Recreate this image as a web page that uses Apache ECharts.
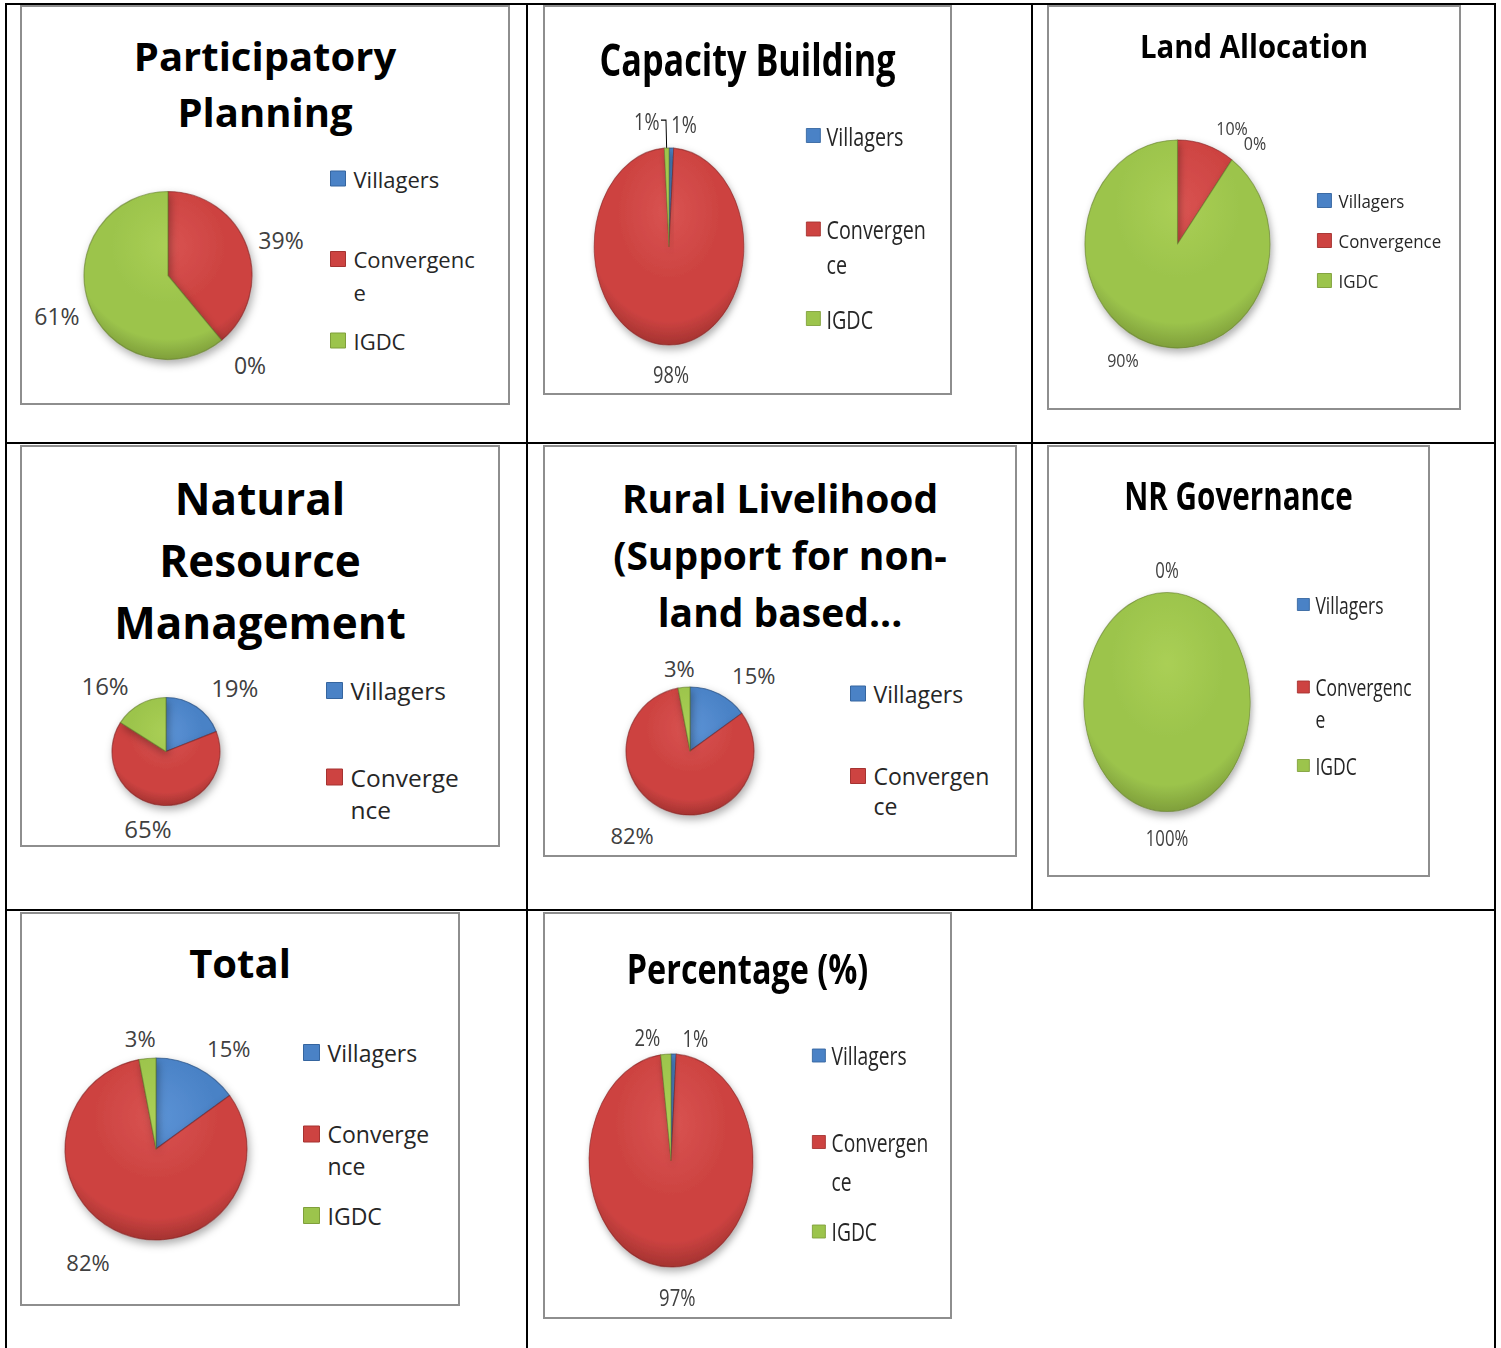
<!DOCTYPE html>
<html><head><meta charset="utf-8">
<script src="https://cdn.jsdelivr.net/npm/echarts@6/dist/echarts.min.js"></script>
<style>
html,body{margin:0;padding:0;background:#fff;width:1501px;height:1348px;overflow:hidden;position:relative;}
.ln{position:absolute;background:#000;}
.box{position:absolute;border:2px solid #8e8e8e;box-sizing:border-box;pointer-events:none;}
.ch{position:absolute;transform-origin:0 0;}
</style></head><body>
<script>
// ---------- data ----------
const categories = ['Villagers', 'Convergence', 'IGDC'];
const chartTitles = [
  'Participatory\nPlanning',
  'Capacity Building',
  'Land Allocation',
  'Natural\nResource\nManagement',
  'Rural Livelihood\n(Support for non-\nland based...',
  'NR Governance',
  'Total',
  'Percentage (%)'
];
const participatoryValues = [0, 39, 61];
const capacityValues = [1, 98, 1];
const landValues = [0, 10, 90];
const nrmValues = [19, 65, 16];
const ruralValues = [15, 82, 3];
const governanceValues = [0, 0, 100];
const totalValues = [15, 82, 3];
const percentageValues = [1, 97, 2];

// ---------- styles ----------
const FONT = 'Open Sans';
const BASE = ['#4A82C6', '#CD4341', '#9CC44C'];
const LIGHT = ['#5C93D6', '#D95452', '#AACF55'];
const DARK = ['#35659F', '#A53331', '#7F9F3B'];
const EDGE = ['rgba(40,80,130,0.7)', 'rgba(130,35,35,0.6)', 'rgba(100,125,45,0.6)'];

// ---------- layout (page px) ----------
const charts = [
  {title: chartTitles[0], values: participatoryValues, box: [20, 5, 490, 400], sx: 1,
   tSize: 40, tLH: 56, tTop: 27, pie: [168, 275.5, 84], lSize: 23, lR: 118,
   nudge: [[82, 207], [2, 4], [0, 1]],
   leg: {x: 330, icon: 15, font: 22, lh: 33, wrap: 10, cy: [180, 260, 342]}},
  {title: chartTitles[1], values: capacityValues, box: [543, 5, 409, 390], sx: 0.76,
   tSize: 45, tLH: 50, tTop: 34, pie: [669, 246.5, 98.5], lSize: 24, lR: 126.5,
   nudge: [[12, 3], [2, 0], [0, 0]], guide: {index: 2, len: 28, len2: 5},
   leg: {x: 806, icon: 14, font: 26, lh: 35, wrap: 9, cy: [137, 230, 320]}},
  {title: chartTitles[2], values: landValues, box: [1047, 5, 414, 405], sx: 0.89,
   tSize: 33, tLH: 40, tTop: 25, pie: [1177.5, 244, 104], lSize: 18, lR: 122,
   nudge: [[77.5, 21], [21, 0], [-21, 0]],
   leg: {x: 1317, icon: 14, font: 19, lh: 24, wrap: 0, cy: [202, 242, 282]}},
  {title: chartTitles[3], values: nrmValues, box: [20, 445, 480, 402], sx: 1,
   tSize: 44, tLH: 62, tTop: 467, pie: [166, 751.5, 54], lSize: 24, lR: 85,
   nudge: [[21, 6], [-10, -8], [-20, 8]],
   leg: {x: 326, icon: 16, font: 24.5, lh: 32, wrap: 8, cy: [692, 778]}},
  {title: chartTitles[4], values: ruralValues, box: [543, 445, 474, 412], sx: 1,
   tSize: 39, tLH: 57, tTop: 468.5, pie: [690, 751, 64], lSize: 22, lR: 92,
   nudge: [[22, 6], [-24, -2], [-2, 9]],
   leg: {x: 850, icon: 15, font: 23, lh: 30, wrap: 9, cy: [695, 777]}},
  {title: chartTitles[5], values: governanceValues, box: [1047, 445, 383, 432], sx: 0.76,
   tSize: 39, tLH: 46, tTop: 472, pie: [1167, 702, 109.5], lSize: 22, lR: 132,
   nudge: [[0, 0], [0, 0], [0, 4]], hideOverlap: true,
   leg: {x: 1297, icon: 12, font: 23, lh: 32, wrap: 10, cy: [606, 688, 767]}},
  {title: chartTitles[6], values: totalValues, box: [20, 912, 440, 394], sx: 1,
   tSize: 40, tLH: 50, tTop: 937.5, pie: [156, 1149, 91], lSize: 22, lR: 125,
   nudge: [[16, 10], [-22, -3], [-4, 13]],
   leg: {x: 303, icon: 16, font: 23, lh: 32, wrap: 8, cy: [1054, 1135, 1217]}},
  {title: chartTitles[7], values: percentageValues, box: [543, 912, 409, 407], sx: 0.77,
   tSize: 42, tLH: 50, tTop: 943, pie: [671, 1160.5, 106.5], lSize: 24, lR: 136.5,
   nudge: [[21, 13], [3, 0], [-17, 12]],
   leg: {x: 812, icon: 13, font: 25, lh: 39, wrap: 9, cy: [1057, 1143, 1233]}}
];

// ---------- table lines ----------
const tableLines = [
  [5, 3, 1491, 2], [5, 3, 2, 1345], [1494, 3, 2, 1345],
  [5, 442, 1491, 2], [5, 909, 1491, 2],
  [526, 3, 2, 1345], [1031, 3, 2, 908]
];
tableLines.forEach(l => {
  const d = document.createElement('div');
  d.className = 'ln';
  d.style.cssText = `left:${l[0]}px;top:${l[1]}px;width:${l[2]}px;height:${l[3]}px;`;
  document.body.appendChild(d);
});

function build(c) {
  const [bx, by, bw, bh] = c.box;
  const sx = c.sx;
  const iw = bw / sx;
  const div = document.createElement('div');
  div.className = 'ch';
  div.style.cssText = `left:${bx}px;top:${by}px;width:${iw}px;height:${bh}px;transform:scaleX(${sx});`;
  document.body.appendChild(div);
  const border = document.createElement('div');
  border.className = 'box';
  border.style.cssText = `left:${bx}px;top:${by}px;width:${bw}px;height:${bh}px;`;
  document.body.appendChild(border);

  const X = px => (px - bx) / sx;
  const Y = py => py - by;
  const cx = X(c.pie[0]), cy = Y(c.pie[1]), r = c.pie[2];
  // light from above: gradient centre shifted up, darker towards the lower rim
  const grad = i => ({
    type: 'radial', x: cx, y: cy - 0.35 * r, r: 1.35 * r, global: true,
    colorStops: [
      {offset: 0, color: LIGHT[i]}, {offset: 0.5, color: BASE[i]},
      {offset: 0.82, color: BASE[i]}, {offset: 1, color: DARK[i]}
    ]
  });
  const L = c.leg;
  const isWrapped = n => L.wrap && n.length > Math.max(L.wrap, 9);
  const wrapName = n => isWrapped(n) ? n.slice(0, L.wrap) + '\n' + n.slice(L.wrap) : n;
  const legends = categories.slice(0, L.cy.length).map((name, i) => {
    const wrapped = isWrapped(name);
    const s = L.icon, lh = L.lh;
    let icon = 'rect', itemHeight = s;
    if (wrapped) {
      const a = lh / 2 - s / 2, b = a + s;
      icon = `path://M0,0M0,${2 * lh}M0,${a}L${s},${a}L${s},${b}L0,${b}Z`;
      itemHeight = 2 * lh;
    }
    return {
      data: [{name: name, itemStyle: {color: BASE[i], borderColor: DARK[i], borderWidth: 1}}],
      left: X(L.x), top: Y(L.cy[i]) - lh / 2 - 1.5,
      orient: 'vertical', padding: 0, itemWidth: s / sx, itemHeight: itemHeight,
      icon: icon, symbolKeepAspect: false, selectedMode: false, formatter: wrapName,
      textStyle: {fontFamily: FONT, fontSize: L.font, color: '#262626', lineHeight: lh,
        padding: [0, 0, 0, 3]}
    };
  });

  const data = c.values.map((v, i) => {
    const d = {name: categories[i], value: v,
      itemStyle: {color: grad(i), borderColor: EDGE[i], borderWidth: v > 0 ? 1.2 : 0}};
    if (c.guide && c.guide.index === i) {
      d.labelLine = {show: true, length: c.guide.len, length2: c.guide.len2 / sx,
        lineStyle: {color: '#000', width: 1.3}};
      d.label = {distanceToLabelLine: 2};
    }
    return d;
  });

  const chart = echarts.init(div, null, {renderer: 'svg', width: iw, height: bh});
  chart.setOption({
    animation: false,
    backgroundColor: '#fff',
    title: {text: c.title, left: 'center', top: Y(c.tTop), padding: 0,
      textStyle: {fontFamily: FONT, fontWeight: 'bold', fontSize: c.tSize, lineHeight: c.tLH, color: '#000'}},
    legend: legends,
    series: [{
      type: 'pie', center: [cx, cy], radius: r, startAngle: 90, clockwise: true,
      avoidLabelOverlap: false, silent: true,
      data: data,
      label: {show: true, position: 'outside', formatter: '{c}%', fontFamily: FONT,
        fontSize: c.lSize, color: '#404040', distanceToLabelLine: 0},
      labelLine: {show: false, length: c.lR - r, length2: 0},
      itemStyle: {shadowBlur: 8, shadowOffsetX: 2, shadowOffsetY: 4, shadowColor: 'rgba(0,0,0,0.32)'},
      emphasis: {disabled: true},
      labelLayout: p => {
        if (c.guide && p.dataIndex === c.guide.index) return {};
        const n = c.nudge[p.dataIndex] || [0, 0];
        return {align: 'center', verticalAlign: 'middle', dx: n[0] / sx, dy: n[1],
          hideOverlap: !!c.hideOverlap};
      }
    }]
  });
}
charts.forEach(build);
</script>
</body></html>
